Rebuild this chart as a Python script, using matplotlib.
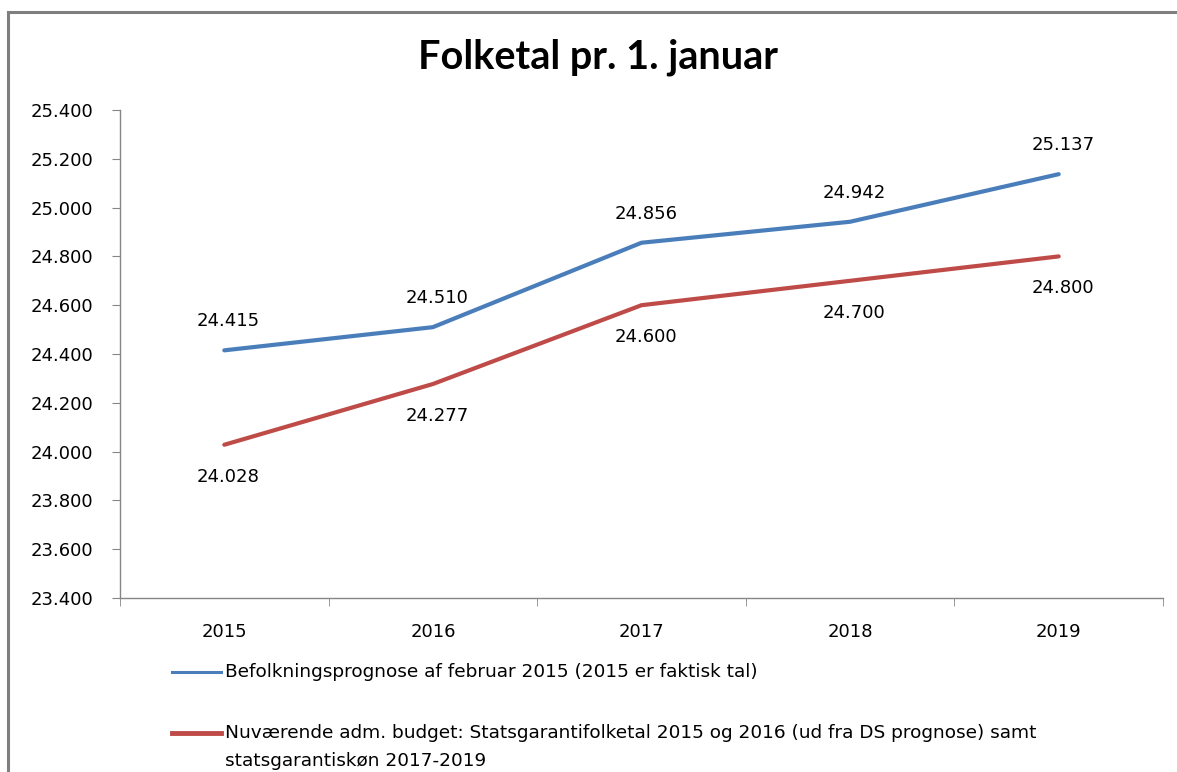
import matplotlib
matplotlib.use('Agg')
import matplotlib.pyplot as plt
from matplotlib.lines import Line2D
from matplotlib.patches import Rectangle

plt.rcParams['font.family'] = ['DejaVu Sans']

# Data
years = ['2015', '2016', '2017', '2018', '2019']
prognose = [24415, 24510, 24856, 24942, 25137]
budget = [24028, 24277, 24600, 24700, 24800]
label_prognose = 'Befolkningsprognose af februar 2015 (2015 er faktisk tal)'
label_budget = ['Nuværende adm. budget: Statsgarantifolketal 2015 og 2016 (ud fra DS prognose) samt',
                'statsgarantiskøn 2017-2019']
yticks = list(range(23400, 25401, 200))

BLUE = '#4a7ebb'
RED = '#be4b48'
GREY = '#868686'
FS = 13


def fmt(v):
    return f'{v:,}'.replace(',', '.')


fig = plt.figure(figsize=(11.77, 7.72), dpi=100)
W, H = 1177, 772

# Ramme om diagrammet
fig.patches.append(Rectangle((8 / W, -0.1), 1.2, 1 - 12 / H + 0.1, transform=fig.transFigure,
                             fill=False, edgecolor='#7f7f7f', linewidth=2.2))

ax = fig.add_axes([120 / W, 1 - 598 / H, (1163 - 120) / W, (598 - 110) / H])
x = list(range(len(years)))
ax.plot(x, prognose, color=BLUE, linewidth=3, solid_capstyle='round')
ax.plot(x, budget, color=RED, linewidth=3, solid_capstyle='round')

for xi, v in zip(x, prognose):
    ax.annotate(fmt(v), (xi, v), xytext=(3, 21), textcoords='offset points',
                ha='center', va='center', fontsize=FS, color='black')
for xi, v in zip(x, budget):
    ax.annotate(fmt(v), (xi, v), xytext=(3, -23), textcoords='offset points',
                ha='center', va='center', fontsize=FS, color='black')

ax.set_xlim(-0.5, len(years) - 0.5)
ax.set_ylim(23400, 25400)
ax.set_yticks(yticks)
ax.set_yticklabels([fmt(t) for t in yticks], fontsize=FS)
ax.set_xticks(x)
ax.set_xticklabels(years, fontsize=FS)
ax.set_xticks([i - 0.5 for i in range(len(years) + 1)], minor=True)
ax.tick_params(axis='x', which='major', length=0, pad=18)
ax.tick_params(axis='x', which='minor', length=6, color=GREY, direction='out')
ax.tick_params(axis='y', length=6, color=GREY, direction='out', pad=13)
for s in ['top', 'right']:
    ax.spines[s].set_visible(False)
for s in ['left', 'bottom']:
    ax.spines[s].set_color(GREY)
    ax.spines[s].set_linewidth(1)

fig.text(598 / W, 1 - 57 / H, 'Folketal pr. 1. januar', ha='center', va='center',
         fontsize=28.5, fontweight='bold', family=['Lato', 'DejaVu Sans'])

# Forklaring under diagrammet
LFS = 13.3
fig.add_artist(Line2D([172 / W, 221 / W], [1 - 672 / H] * 2, color=BLUE, linewidth=2.2,
                      transform=fig.transFigure))
fig.text(225 / W, 1 - 672 / H, label_prognose, ha='left', va='center', fontsize=LFS)
fig.add_artist(Line2D([172 / W, 221 / W], [1 - 733 / H] * 2, color=RED, linewidth=3.5,
                      transform=fig.transFigure))
for i, line in enumerate(label_budget):
    fig.text(225 / W, 1 - (733 + 28 * i) / H, line, ha='left', va='center', fontsize=LFS)

fig.savefig('out.png', dpi=100)
